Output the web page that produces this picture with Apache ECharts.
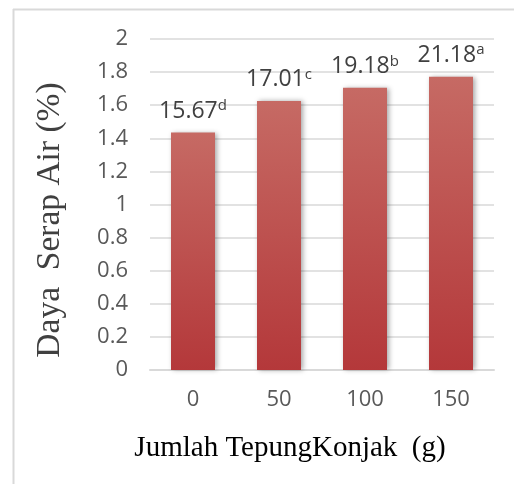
<!DOCTYPE html>
<html><head><meta charset="utf-8">
<script src="https://cdn.jsdelivr.net/npm/echarts@6/dist/echarts.min.js"></script>
<style>html,body{margin:0;padding:0;background:#fff}#c{width:514px;height:484px}</style>
</head><body><div id="c"></div>
<script>
var categories = ['0', '50', '100', '150'];
var values = [1.435, 1.625, 1.705, 1.772];
var labelMain = ['15.67', '17.01', '19.18', '21.18'];
var labelSup = ['d', 'c', 'b', 'a'];
var yTicks = [0, 0.2, 0.4, 0.6, 0.8, 1, 1.2, 1.4, 1.6, 1.8, 2];

var chart = echarts.init(document.getElementById('c'));
chart.setOption({
  animation: false,
  backgroundColor: '#fff',
  grid: { left: 150, right: 20, top: 39, bottom: 114 },
  graphic: [
    { type: 'line', shape: { x1: 13.5, y1: 9, x2: 13.5, y2: 484 }, style: { stroke: '#d9d9d9', lineWidth: 2 } },
    { type: 'line', shape: { x1: 13, y1: 9.5, x2: 514, y2: 9.5 }, style: { stroke: '#d9d9d9', lineWidth: 2 } },
    { type: 'text', x: 290, y: 448, style: { text: 'Jumlah TepungKonjak  (g)', font: '29px "Liberation Serif"', fill: '#000', align: 'center', verticalAlign: 'middle' } },
    { type: 'text', x: 50, y: 220, rotation: Math.PI / 2, style: { text: 'Daya  Serap Air (%)', font: '33.5px "Liberation Serif"', fill: '#404040', align: 'center', verticalAlign: 'middle' } }
  ],
  xAxis: {
    type: 'category', data: categories,
    axisLine: { lineStyle: { color: '#d9d9d9', width: 2 } },
    axisTick: { show: false },
    axisLabel: { color: '#595959', fontSize: 22, fontFamily: '"Open Sans"', margin: 19 }
  },
  yAxis: {
    type: 'value', min: 0, max: 2, interval: 0.2,
    axisLine: { show: false }, axisTick: { show: false },
    splitLine: { lineStyle: { color: '#d9d9d9', width: 1.5 } },
    axisLabel: { color: '#595959', fontSize: 22, fontFamily: '"Open Sans"', margin: 22,
      formatter: function (v) { return String(Math.round(v * 10) / 10); } }
  },
  series: [{
    type: 'bar', data: values, barWidth: 44,
    itemStyle: {
      color: { type: 'linear', x: 0, y: 0, x2: 0, y2: 1, colorStops: [
        { offset: 0, color: '#c66a64' }, { offset: 1, color: '#b4383a' } ] },
      shadowColor: 'rgba(0,0,0,0.35)', shadowBlur: 5, shadowOffsetX: 2, shadowOffsetY: 0
    },
    label: {
      show: true, position: 'top', distance: 9,
      formatter: function (p) { return labelMain[p.dataIndex] + '{s|' + labelSup[p.dataIndex] + '}'; },
      color: '#404040', fontSize: 23, fontFamily: '"Open Sans"',
      rich: { s: { fontSize: 15, color: '#404040', fontFamily: '"Open Sans"', verticalAlign: 'top', padding: [0, 0, 10, 0] } }
    }
  }]
});
</script></body></html>
